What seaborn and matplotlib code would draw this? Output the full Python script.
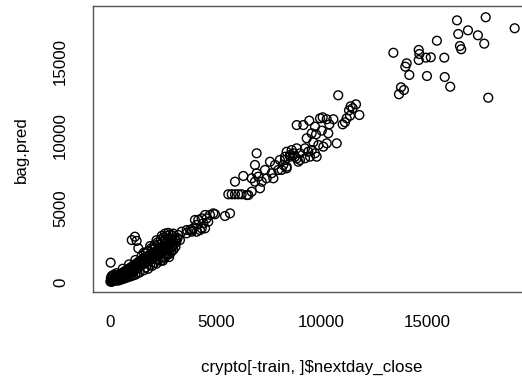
import matplotlib
matplotlib.use("Agg")
import matplotlib.pyplot as plt
import seaborn as sns
import pandas as pd

# Observed next-day close (x) and bagged-tree prediction (y) on the test rows
nextday_close = [
    # dense low-price band
    20, 50, 80, 100, 130, 160, 190, 40, 220, 250, 280, 300, 70, 330, 360, 390, 120, 420, 450, 480,
    500, 540, 200, 580, 600, 630, 660, 700, 720, 750, 780, 820, 850, 880, 900, 940, 970, 1000, 1030, 1060,
    1100, 1130, 1160, 1200, 1230, 1260, 1300, 1330, 1360, 1400, 1430, 1460, 1500, 1530, 1560, 1600, 1640, 1680, 1720, 1760,
    1800, 1840, 1880, 1920, 1960, 2000, 2040, 2080, 2120, 2160, 2200, 2240, 2280, 2320, 2360, 2400, 2440, 2480, 2520, 2560,
    2600, 2640, 2680, 2720, 2760, 2800, 2850, 2900, 2950, 3000, 3050, 3100, 3150, 3200,
    1800, 1950, 2100, 2250, 2400, 2550, 2700, 2850, 2300, 2500, 2650, 2000, 2150, 1700, 2800, 2950,
    400, 600, 800, 1000, 1200, 1400, 1600, 1700, 1800, 1900, 2000, 2100, 2200, 2300, 2400, 2500, 2600, 2700, 2800, 2900, 3000,
    1600, 1900, 2200, 2450, 2600, 2750, 3000, 2900, 2600, 2300, 2000, 1700, 1400, 1100, 800, 500,
    1500, 1200, 900, 600, 300, 2200, 2500, 2800, 3100, 1300, 1100, 900, 700, 500,
    1180, 1030, 1260, 1340, 30,
    # 3000 - 5000
    3390, 3630, 3870, 4100, 4340, 3230, 3080, 3000, 2840, 2680, 3310, 3630, 3790,
    4890, 4730, 4500, 4340, 4180, 4020, 4580, 4420, 4100, 3940, 4500, 4260, 3870, 4650, 4970,
    # 5000 - 8500
    6940, 6860, 6310, 5915, 7570, 7810, 8040, 8280, 8520, 8835, 8360, 7960, 7650, 7335, 7020, 7180, 6860, 7415, 7730, 6940,
    6705, 7100, 6705, 6470, 6545, 5600, 5760, 5915, 6070, 6230, 5440, 5680,
    # 8000 - 12000
    8360, 8600, 8835, 8990, 9230, 9385, 9545, 9700, 9780, 9465, 9230, 8990, 8755, 8520, 8280, 8200, 8360, 8125, 8910, 8675,
    8835, 9150, 9430, 9700, 9940, 10065, 10255, 10570, 10380, 10020, 9750, 9545, 9310, 10330, 9620, 9860, 10095, 10255, 10730,
    11640, 11390, 11485, 11310, 11800, 11360, 11200, 11120, 11010, 10800,
    # above 13000
    16420, 17780, 19150, 16940, 16480, 17410, 17710, 15470, 16560, 16620, 13410, 14610, 14640, 14610, 14950, 15180, 15820,
    14040, 13975, 14165, 15000, 15840, 16100, 13770, 13910, 13675, 17900,
]

bag_pred = [
    30, 80, 10, 150, 60, 220, 120, 250, 300, 180, 90, 350, 380, 240, 420, 300, 450, 200, 480, 350,
    560, 420, 500, 620, 300, 500, 700, 560, 420, 780, 640, 520, 880, 720, 600, 960, 820, 680, 1050, 900,
    760, 1150, 980, 850, 1250, 1080, 950, 1350, 1180, 1050, 1450, 1280, 1150, 1550, 1380, 1250, 1650, 1480, 1350, 1750,
    1580, 1450, 1850, 1680, 1560, 1950, 1780, 1660, 2050, 1880, 1760, 2150, 1980, 1880, 2250, 2080, 2000, 2350, 2180, 2100,
    2450, 2280, 2200, 2550, 2380, 2300, 2650, 2500, 2400, 2750, 2600, 2900, 2800, 3000,
    2100, 2300, 2500, 2700, 2900, 3050, 3150, 3250, 2550, 2750, 2950, 2200, 2350, 1950, 3000, 3150,
    100, 200, 300, 400, 500, 650, 800, 1000, 900, 1150, 1100, 1300, 1250, 1500, 1450, 1700, 1650, 1850, 1900, 2050, 2200,
    2000, 2450, 2850, 3150, 3300, 3350, 3300, 2900, 2600, 2300, 2000, 1700, 1400, 1100, 800, 500,
    1800, 1500, 1200, 900, 600, 1550, 1450, 1700, 2400, 600, 450, 350, 250, 150,
    3090, 2860, 2800, 2300, 1320,
    3430, 3545, 3545, 3430, 3660, 3200, 2860, 2520, 2180, 1960, 2860, 3320, 3550,
    4680, 4570, 4570, 4340, 4230, 4230, 4340, 4000, 3890, 3660, 3660, 3545, 3430, 4110, 4620,
    8775, 7980, 7230, 6840, 8200, 7980, 8320, 8540, 8660, 8430, 7860, 7640, 7410, 7640, 7180, 6840, 6840, 7070, 7070, 7410,
    7070, 6390, 6160, 5930, 5930, 5980, 5980, 5980, 5980, 5980, 4500, 4680,
    8880, 9000, 9115, 8775, 9115, 8885, 9000, 8775, 8545, 8545, 8435, 8320, 8545, 8545, 8320, 7980, 7750, 7640, 8200, 8775,
    10700, 10700, 11000, 10590, 11160, 11230, 11095, 11095, 10750, 10320, 10070, 10140, 9800, 10140, 9525, 9340, 9225, 9455, 9455,
    12115, 11980, 11845, 11705, 11385, 11340, 11160, 10890, 10750, 12730,
    17840, 18050, 17300, 17160, 16910, 16820, 16250, 16450, 16090, 15870, 15630, 15820, 15545, 15135, 15295, 15320, 15295,
    14910, 14680, 14115, 14045, 13975, 13315, 13275, 13090, 12800, 12565,
]

x_ticks = [0, 5000, 10000, 15000]
y_ticks = [0, 5000, 10000, 15000]

df = pd.DataFrame({"close": nextday_close, "pred": bag_pred})

sns.set_theme(style="white")
plt.rcParams["font.family"] = ["Liberation Sans", "DejaVu Sans"]

fig = plt.figure(figsize=(5.22, 3.82), dpi=100)
ax = fig.add_axes([0.1791, 0.2356, 0.8375, 0.7474])

sns.scatterplot(
    data=df, x="close", y="pred", ax=ax,
    marker="o", s=40, facecolor="none", edgecolor="black", linewidth=1.0,
)

ax.set_xlim(-781, 19907)
ax.set_ylim(-682, 18784)
ax.set_xticks(x_ticks)
ax.set_yticks(y_ticks)
ax.set_xticklabels([str(v) for v in x_ticks])
ax.set_yticklabels([str(v) for v in y_ticks], rotation=90, va="center")

ax.tick_params(axis="both", direction="out", length=7.9, width=0.8, color="black",
               labelsize=12.2, labelcolor="black")
ax.tick_params(axis="x", pad=9)
ax.tick_params(axis="y", pad=10.4)

for side in ["left", "bottom", "top", "right"]:
    ax.spines[side].set_visible(True)
    ax.spines[side].set_color("#555555")
    ax.spines[side].set_linewidth(1.0)

ax.set_xlabel("crypto[-train, ]$nextday_close", fontsize=12.2, color="black")
ax.set_ylabel("bag.pred", fontsize=12.2, color="black")
ax.xaxis.set_label_coords(0.499, -0.265)
ax.xaxis.label.set_va("center")
ax.yaxis.set_label_coords(-0.1658, 0.5)
ax.yaxis.label.set_va("center")

fig.savefig("out.png", dpi=100)
